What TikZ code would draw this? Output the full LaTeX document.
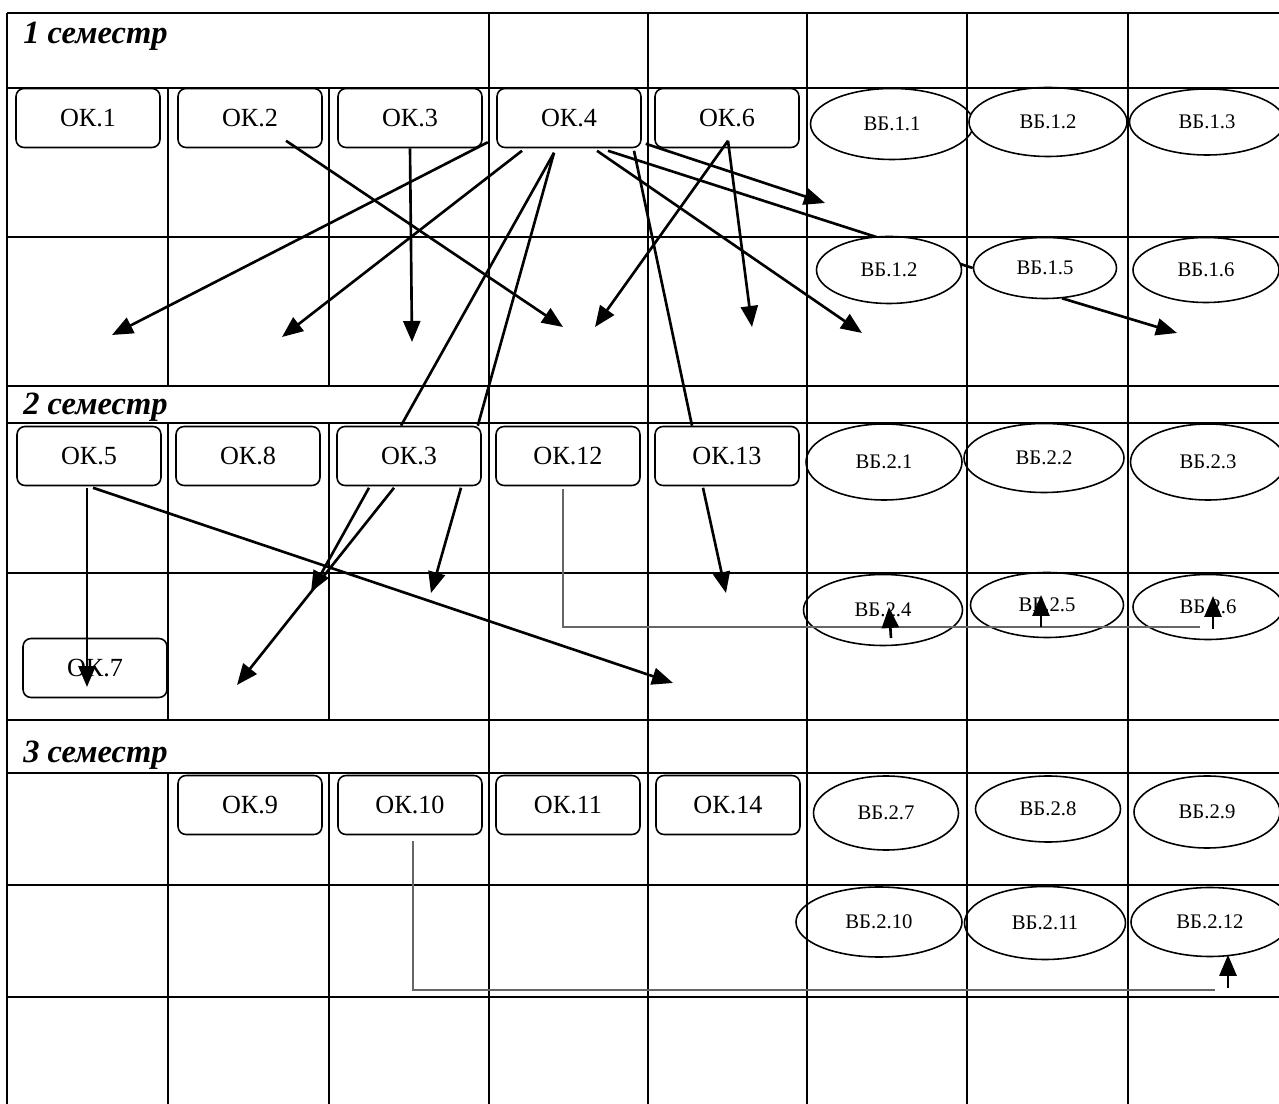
\documentclass[tikz,border=0pt]{standalone}
\usepackage{fontspec}
\setmainfont{Liberation Serif}
\usetikzlibrary{shapes.geometric, arrows.meta, backgrounds}

\tikzset{esize/.style 2 args={minimum width=#1*0.02cm, minimum height=#2*0.02cm}}

\begin{document}
\begin{tikzpicture}[x=0.02cm, y=-0.02cm]
    % Define the styles
    \tikzstyle{okbox} = [rectangle, draw, line width=0.9pt, fill=white, rounded corners=0.16cm, minimum width=2.88cm, minimum height=1.18cm, inner sep=0pt, font=\fontsize{14.9}{16}\selectfont]
    \tikzstyle{vbell} = [ellipse, draw, line width=0.9pt, fill=white, inner sep=0pt, font=\fontsize{11.8}{13}\selectfont]
    \tikzstyle{sem} = [anchor=base west, inner sep=0pt, font=\fontsize{18.5}{20}\selectfont\bfseries\itshape]
    \tikzstyle{grid} = [line width=1.25pt]
    \tikzstyle{line} = [draw, line width=1.5pt, -{Triangle[length=0.42cm, width=0.34cm]}]
    \tikzstyle{plain} = [draw, line width=1.5pt]
    \tikzstyle{thin} = [draw, line width=0.8pt, black!60]

    \useasboundingbox (0,0) rectangle (1279,1104);

    % Semester titles
    \node [sem] (sem1) at (23,44) {1 семестр};
    \node [sem] (sem2) at (23,415) {2 семестр};
    \node [sem] (sem3) at (23,763) {3 семестр};

    % Place the nodes: 1 semester
    \node [okbox] (ok1) at (88,118) {ОК.1};
    \node [okbox] (ok2) at (250,118) {ОК.2};
    \node [okbox] (ok3) at (410,118) {ОК.3};
    \node [okbox] (ok4) at (569,118) {ОК.4};
    \node [okbox] (ok6) at (727,118) {ОК.6};
    \node [vbell, esize={163}{71}] (vb11) at (892,124) {ВБ.1.1};
    \node [vbell, esize={158}{69}] (vb12) at (1048,122) {ВБ.1.2};
    \node [vbell, esize={155}{66}] (vb13) at (1207,122) {ВБ.1.3};
    \node [vbell, esize={145}{67}] (vb12b) at (889,270) {ВБ.1.2};
    \node [vbell, esize={143}{61}] (vb15) at (1045,268) {ВБ.1.5};
    \node [vbell, esize={146}{65}] (vb16) at (1206,270) {ВБ.1.6};

    % Place the nodes: 2 semester
    \node [okbox] (ok5) at (89,456) {ОК.5};
    \node [okbox] (ok8) at (248,456) {ОК.8};
    \node [okbox] (ok3b) at (409,456) {ОК.3};
    \node [okbox] (ok12) at (568,456) {ОК.12};
    \node [okbox] (ok13) at (727,456) {ОК.13};
    \node [okbox] (ok7) at (95,668) {ОК.7};
    \node [vbell, esize={156}{76}] (vb21) at (884,462) {ВБ.2.1};
    \node [vbell, esize={160}{69}] (vb22) at (1044,458) {ВБ.2.2};
    \node [vbell, esize={155}{76}] (vb23) at (1208,462) {ВБ.2.3};
    \node [vbell, esize={159}{71}] (vb24) at (883,610) {ВБ.2.4};
    \node [vbell, esize={153}{65}] (vb25) at (1047,605) {ВБ.2.5};
    \node [vbell, esize={150}{65}] (vb26) at (1208,607) {ВБ.2.6};

    % Place the nodes: 3 semester
    \node [okbox] (ok9) at (250,805) {ОК.9};
    \node [okbox] (ok10) at (410,805) {ОК.10};
    \node [okbox] (ok11) at (568,805) {ОК.11};
    \node [okbox] (ok14) at (728,805) {ОК.14};
    \node [vbell, esize={145}{74}] (vb27) at (886,813) {ВБ.2.7};
    \node [vbell, esize={145}{66}] (vb28) at (1048,809) {ВБ.2.8};
    \node [vbell, esize={146}{72}] (vb29) at (1207,812) {ВБ.2.9};
    \node [vbell, esize={166}{70}] (vb210) at (879,922) {ВБ.2.10};
    \node [vbell, esize={161}{73}] (vb211) at (1045,923) {ВБ.2.11};
    \node [vbell, esize={158}{69}] (vb212) at (1210,922) {ВБ.2.12};

    % Draw the table
    \foreach \y in {13,88,237,386,423,573,720,773,885,997}
        \draw [grid] (7,\y) -- (1279,\y);
    \draw [grid] (7,13) -- (7,1104);
    \foreach \x in {489,648,807,967,1128}
        \draw [grid] (\x,13) -- (\x,1104);
    \foreach \x in {168,329} {
        \draw [grid] (\x,88) -- (\x,386);
        \draw [grid] (\x,423) -- (\x,720);
        \draw [grid] (\x,773) -- (\x,1104);
    }

    % Free ends of the arrows
    \coordinate (t1) at (563,327);
    \coordinate (t2) at (412,342);
    \coordinate (t3) at (112,335);
    \coordinate (t4) at (282,337);
    \coordinate (t5) at (862,333);
    \coordinate (t6) at (825,203);
    \coordinate (t7) at (595,327);
    \coordinate (t8) at (752,327);
    \coordinate (t9) at (1177,333);
    \coordinate (u1) at (311,592);
    \coordinate (u2) at (237,685);
    \coordinate (u3) at (431,593);
    \coordinate (u4) at (726,593);
    \coordinate (u5) at (87,687);
    \coordinate (u6) at (673,683);
    \coordinate (k12) at (1200,627);
    \coordinate (a24) at (891,638);
    \coordinate (a25) at (1041,627);
    \coordinate (a26) at (1213,629);
    \coordinate (k10) at (1215,990);
    \coordinate (a212) at (1228,988);

    % Connect the nodes: 1 semester
    \path [line] ([shift={(36,-7.5)}]ok2.south) -- (t1);
    \path [line] (ok3.south) -- (t2);
    \path [line] ([shift={(5,-6)}]ok3.south east) -- (t3);
    \path [line] ([shift={(-47,2.5)}]ok4.south) -- (t4);
    \path [plain] ([shift={(-15,4.5)}]ok4.south) -- ([shift={(-8,0)}]ok3b.north);
    \path [plain] ([shift={(-15,4.5)}]ok4.south) -- ([shift={(-4,0)}]ok3b.north east);
    \path [line] ([shift={(28,2.5)}]ok4.south) -- (t5);
    \begin{pgfonlayer}{background}
        \path [plain] ([shift={(39,2.5)}]ok4.south) -- (vb15.west);
    \end{pgfonlayer}
    \path [plain] ([shift={(65,2.5)}]ok4.south) -- ([shift={(-35,0)}]ok13.north);
    \path [line] ([shift={(4,-4.5)}]ok4.south east) -- (t6);
    \path [line] ([shift={(1,-7.5)}]ok6.south) -- (t7);
    \path [line] ([shift={(1,-7.5)}]ok6.south) -- (t8);
    \path [line] ([shift={(17,-1)}]vb15.south) -- (t9);

    % Connect the nodes: 2 semester
    \path [line] ([shift={(-40,1.5)}]ok3b.south) -- (u1);
    \path [line] ([shift={(-15,1.5)}]ok3b.south) -- (u2);
    \path [line] ([shift={(52,1.5)}]ok3b.south) -- (u3);
    \path [line] ([shift={(-24,1.5)}]ok13.south) -- (u4);
    \path [line] ([shift={(-2,1.5)}]ok5.south) -- (u5);
    \path [line] ([shift={(4,1.5)}]ok5.south) -- (u6);
    \path [thin] ([shift={(-5,2.5)}]ok12.south) |- (k12);
    \path [line] (a24) -- ([shift={(6,-3)}]vb24.center);
    \path [line] (a25) -- ([shift={(-6,-10)}]vb25.center);
    \path [line] (a26) -- ([shift={(5,-11)}]vb26.center);

    % Connect the nodes: 3 semester
    \path [thin] ([shift={(3,5.5)}]ok10.south) |- (k10);
    \path [line] (a212) -- ([shift={(18,-2.5)}]vb212.south);
\end{tikzpicture}
\end{document}
